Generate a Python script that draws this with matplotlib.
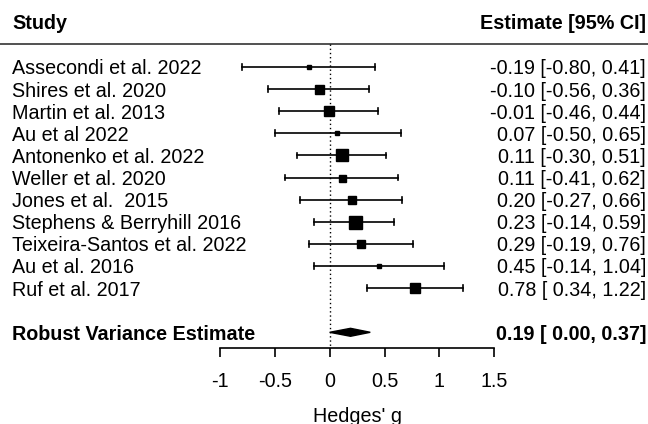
import matplotlib
matplotlib.use("Agg")
import matplotlib.pyplot as plt

# ── Data ──────────────────────────────────────────────────────────────
studies = [
    "Assecondi et al. 2022", "Shires et al. 2020", "Martin et al. 2013",
    "Au et al 2022", "Antonenko et al. 2022", "Weller et al. 2020",
    "Jones et al.  2015", "Stephens & Berryhill 2016",
    "Teixeira-Santos et al. 2022", "Au et al. 2016", "Ruf et al. 2017",
]
est = [-0.19, -0.10, -0.01, 0.07, 0.11, 0.11, 0.20, 0.23, 0.29, 0.45, 0.78]
ci_lo = [-0.80, -0.56, -0.46, -0.50, -0.30, -0.41, -0.27, -0.14, -0.19, -0.14, 0.34]
ci_hi = [0.41, 0.36, 0.44, 0.65, 0.51, 0.62, 0.66, 0.59, 0.76, 1.04, 1.22]
weights = [4.5, 9, 9.5, 4.5, 11.5, 7, 8.5, 13, 7.5, 5, 10]  # relative box size

summary_label = "Robust Variance Estimate"
summary_est, summary_lo, summary_hi = 0.19, 0.00, 0.37
xticks = [-1, -0.5, 0, 0.5, 1, 1.5]
xticklabels = ["-1", "-0.5", "0", "0.5", "1", "1.5"]

plt.rcParams["font.family"] = ["Liberation Sans", "DejaVu Sans"]
FS = 14.2
LW = 1.2

fig = plt.figure(figsize=(6.48, 4.24), dpi=100)
ax = fig.add_axes([0, 76 / 424, 1, 348 / 424])
ax.set_xlim(-3.008, 2.904)
ax.set_ylim(12.71, -3.03)

for s in ["top", "left", "right"]:
    ax.spines[s].set_visible(False)
ax.spines["bottom"].set_bounds(xticks[0], xticks[-1])
ax.spines["bottom"].set_linewidth(LW)
ax.set_yticks([])
ax.set_xticks(xticks)
ax.set_xticklabels(xticklabels, fontsize=FS)
ax.tick_params(axis="x", length=6.5, width=LW, pad=11)
ax.set_xlabel("Hedges' g", fontsize=FS, labelpad=12)
ax.xaxis.set_label_coords((0.25 + 3.008) / (2.904 + 3.008), -0.17)

ytr = ax.get_yaxis_transform()
rows = list(range(len(studies)))
summary_row = len(studies) + 1

# header + separator
ax.text(12 / 648, -2.05, "Study", transform=ytr, fontsize=FS,
        fontweight="bold", ha="left", va="center_baseline")
ax.text(646 / 648, -2.05, "Estimate [95% CI]", transform=ytr, fontsize=FS,
        fontweight="bold", ha="right", va="center_baseline")
ax.axhline(-1.05, color="#333333", linewidth=LW)
ax.plot([0, 0], [-1.05, 12.71], color="black", linestyle=(0, (1, 2)),
        linewidth=1.0)

# studies
for y, name, e, lo, hi, w in zip(rows, studies, est, ci_lo, ci_hi, weights):
    ax.plot([lo, hi], [y, y], color="black", linewidth=LW)
    ax.plot([lo, lo], [y - 0.13, y + 0.13], color="black", linewidth=LW)
    ax.plot([hi, hi], [y - 0.13, y + 0.13], color="black", linewidth=LW)
    ax.plot([e], [y], marker="s", color="black", markersize=w * 0.72,
            linestyle="none")
    ax.text(12 / 648, y, name, transform=ytr, fontsize=FS,
            ha="left", va="center_baseline")
    ax.text(646 / 648, y, f"{e:.2f} [{lo:5.2f}, {hi:.2f}]".replace("  ", " "),
            transform=ytr, fontsize=FS, ha="right", va="center_baseline")

# summary diamond
ax.fill([summary_lo, summary_est, summary_hi, summary_est],
        [summary_row, summary_row - 0.18, summary_row, summary_row + 0.18],
        color="black")
ax.text(12 / 648, summary_row, summary_label, transform=ytr, fontsize=FS,
        fontweight="bold", ha="left", va="center_baseline")
ax.text(646 / 648, summary_row,
        f"{summary_est:.2f} [{summary_lo:5.2f}, {summary_hi:.2f}]",
        transform=ytr, fontsize=FS, fontweight="bold", ha="right",
        va="center_baseline")

fig.savefig("out.png", dpi=100)
